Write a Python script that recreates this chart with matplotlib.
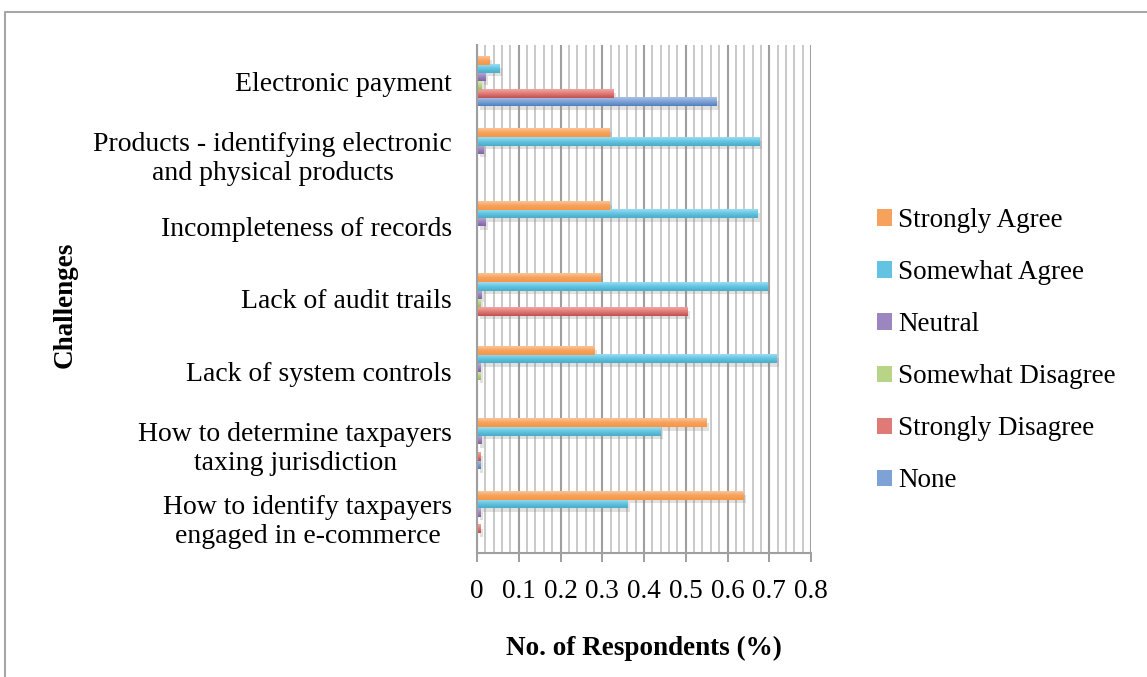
import numpy as np
import matplotlib
matplotlib.use("Agg")
import matplotlib.pyplot as plt
from matplotlib.patches import Patch
from matplotlib.lines import Line2D
import matplotlib.patheffects as pe
from matplotlib.colors import to_rgb

# ---------------- data ----------------
categories = [
    "How to identify taxpayers\nengaged in e-commerce",
    "How to determine taxpayers\ntaxing jurisdiction",
    "Lack of system controls",
    "Lack of audit trails",
    "Incompleteness of records",
    "Products - identifying electronic\nand physical products",
    "Electronic payment",
]
series_names = ["None", "Strongly Disagree", "Somewhat Disagree",
                "Neutral", "Somewhat Agree", "Strongly Agree"]
none_vals = [0.0, 0.008, 0.0, 0.0, 0.0, 0.0, 0.573]
strongly_disagree = [0.008, 0.008, 0.0, 0.504, 0.0, 0.0, 0.326]
somewhat_disagree = [0.0, 0.0, 0.008, 0.008, 0.0, 0.0, 0.010]
neutral = [0.008, 0.010, 0.008, 0.010, 0.020, 0.016, 0.020]
somewhat_agree = [0.360, 0.439, 0.717, 0.695, 0.671, 0.676, 0.053]
strongly_agree = [0.638, 0.549, 0.281, 0.295, 0.317, 0.317, 0.030]
x_ticks = [0, 0.1, 0.2, 0.3, 0.4, 0.5, 0.6, 0.7, 0.8]
x_tick_labels = ["0", "0.1", "0.2", "0.3", "0.4", "0.5", "0.6", "0.7", "0.8"]

series_values = [none_vals, strongly_disagree, somewhat_disagree,
                 neutral, somewhat_agree, strongly_agree]

# ---------------- style ----------------
base_colors = ["#4F81BD", "#C0504D", "#9BBB59", "#8064A2", "#4BACC6", "#F79646"]
top_colors = ["#A9C2E6", "#F2A6A4", "#D6E9B4", "#BBA9D6", "#9ADDF2", "#FCC498"]
mid_colors = ["#7EA2D6", "#E07A77", "#B8D486", "#9C86BF", "#62C4E0", "#F6A25C"]

W, H = 1147, 677
plt.rcParams['font.family'] = ['Liberation Serif', 'DejaVu Serif']
fig = plt.figure(figsize=(W / 100, H / 100), dpi=100)
fig.patch.set_facecolor("white")

ax_l, ax_r, ax_t, ax_b = 477, 811, 45, 553
ax = fig.add_axes([ax_l / W, 1 - ax_b / H, (ax_r - ax_l) / W, (ax_b - ax_t) / H])

n_series = len(series_names)
bar_h = 0.115
y = np.arange(len(categories))

def grad_img(top, mid, bottom, n=32):
    t = np.linspace(0, 1, n)
    top, mid, bottom = map(lambda c: np.array(to_rgb(c)), (top, mid, bottom))
    rows = []
    for v in t:  # v=0 bottom, v=1 top
        if v < 0.5:
            c = bottom + (mid - bottom) * (v / 0.5)
        else:
            c = mid + (top - mid) * ((v - 0.5) / 0.5)
        rows.append(c)
    return np.array(rows)[:, None, :]

for i, (name, vals) in enumerate(zip(series_names, series_values)):
    offs = (i - (n_series - 1) / 2) * bar_h
    bars = ax.barh(y + offs, vals, height=bar_h, facecolor="none",
                   linewidth=0, zorder=1.5)
    img = grad_img(top_colors[i], mid_colors[i], base_colors[i])
    for p in bars.patches:
        w = p.get_width()
        if w <= 0:
            continue
        p.set_path_effects([pe.SimplePatchShadow(offset=(2, -2.5),
                                                 shadow_rgbFace="#8a8a8a",
                                                 alpha=0.25)])
        x0, y0, hh = p.get_x(), p.get_y(), p.get_height()
        ax.imshow(img, extent=[x0, x0 + w, y0, y0 + hh], origin="lower",
                  aspect="auto", interpolation="bilinear", zorder=2)

ax.set_xlim(0, 0.8)
ax.set_ylim(-0.5, len(categories) - 0.5)

# grid
ax.set_axisbelow(True)
ax.set_xticks(x_ticks)
ax.set_xticklabels(x_tick_labels)
ax.set_xticks(np.arange(0, 0.8001, 0.02), minor=True)
ax.grid(axis="x", which="minor", color="#C9C9C9", linewidth=1.4, zorder=0)
ax.grid(axis="x", which="major", color="#9F9F9F", linewidth=1.5, zorder=0)
ax.tick_params(axis="x", which="minor", length=0)
ax.tick_params(axis="x", which="major", length=6.5, width=1.4, color="#9F9F9F",
               labelsize=19.5, pad=12)

ax.set_yticks(y)
ax.set_yticklabels(categories)
ax.tick_params(axis="y", length=0, labelsize=20, pad=18)
for lbl in ax.get_yticklabels():
    lbl.set_multialignment("center")

for s in ["top", "right"]:
    ax.spines[s].set_visible(False)
for s in ["left", "bottom"]:
    ax.spines[s].set_color("#9F9F9F")
    ax.spines[s].set_linewidth(1.5)

# axis titles
fig.text(((ax_l + ax_r) / 2) / W, 1 - 655 / H, "No. of Respondents (%)",
         ha="center", va="baseline", fontsize=19.5, fontweight="bold")
fig.text(65 / W, 1 - 305 / H, "Challenges", rotation=90, ha="center",
         va="center", fontsize=19.5, fontweight="bold")

# legend
handles = [Patch(facecolor=mid_colors[i], edgecolor="none", label=series_names[i])
           for i in range(n_series - 1, -1, -1)]
fig.legend(handles=handles, loc="upper left",
           bbox_to_anchor=(877 / W, 1 - 208 / H), frameon=False,
           fontsize=19.5, handlelength=0.55, handleheight=0.55,
           handletextpad=0.22, labelspacing=1.0, borderpad=0, borderaxespad=0)

# outer frame
fig.add_artist(Line2D([5 / W, 5 / W, 1], [0, 1 - 12 / H, 1 - 12 / H],
                      transform=fig.transFigure, color="#A6A6A6", linewidth=1.5))

fig.savefig("out.png", dpi=100)
